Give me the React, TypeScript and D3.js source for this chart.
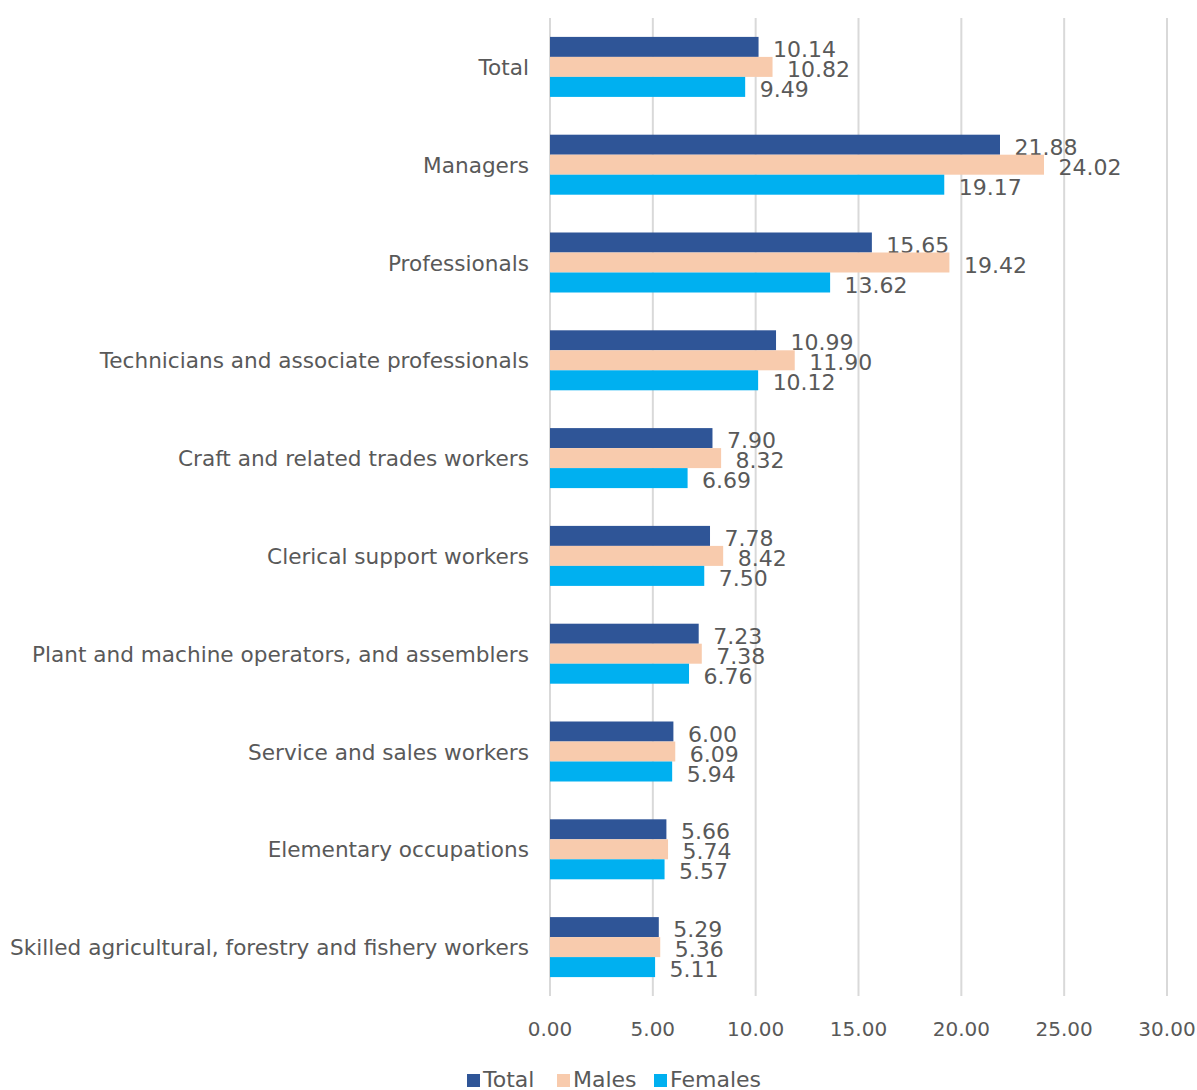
import React from "react";
import * as d3 from "d3";

const categories = [
  "Total",
  "Managers",
  "Professionals",
  "Technicians and associate professionals",
  "Craft and related trades workers",
  "Clerical support workers",
  "Plant and machine operators, and assemblers",
  "Service and sales workers",
  "Elementary occupations",
  "Skilled agricultural, forestry and fishery workers",
];
const seriesNames = ["Total", "Males", "Females"];
const totalValues = [10.14, 21.88, 15.65, 10.99, 7.9, 7.78, 7.23, 6.0, 5.66, 5.29];
const maleValues = [10.82, 24.02, 19.42, 11.9, 8.32, 8.42, 7.38, 6.09, 5.74, 5.36];
const femaleValues = [9.49, 19.17, 13.62, 10.12, 6.69, 7.5, 6.76, 5.94, 5.57, 5.11];
const xTicks = [0, 5, 10, 15, 20, 25, 30];
const colors = ["#2F5597", "#F8CBAD", "#00B0F0"];

export default function App() {
  const W = 1197, H = 1090;
  const left = 550, right = 1167, top = 18, bottom = 996;
  const x = d3.scaleLinear().domain([0, 30]).range([left, right]);
  const y = d3.scaleBand().domain(categories).range([top, bottom]);
  const step = y.step();
  const barH = 20;
  const series = [totalValues, maleValues, femaleValues];
  const font = "DejaVu Sans, Verdana, sans-serif";
  const textColor = "#595959";

  const legendItems = seriesNames.map((n, i) => ({ n, c: colors[i] }));
  const legendX = [467, 557, 654];

  return (
    <svg width={W} height={H} style={{ position: "absolute", left: 0, top: 0 }} fontFamily={font}>
      <rect width={W} height={H} fill="#fff" />
      {xTicks.map((t) => (
        <line key={t} x1={x(t)} x2={x(t)} y1={top} y2={bottom} stroke="#D9D9D9" strokeWidth={2} />
      ))}
      {categories.map((c, ci) => {
        const cy = (y(c) as number) + step / 2;
        return (
          <g key={c}>
            <text x={529} y={cy + 8} textAnchor="end" fontSize={21.6} fill={textColor}>
              {c}
            </text>
            {series.map((vals, si) => {
              const by = cy - 1.5 * barH + si * barH;
              return (
                <g key={si}>
                  <rect x={x(0)} y={by} width={x(vals[ci]) - x(0)} height={barH} fill={colors[si]} />
                  <text x={x(vals[ci]) + 14.5} y={by + barH / 2 + 10} fontSize={22} fill={textColor}>
                    {vals[ci].toFixed(2)}
                  </text>
                </g>
              );
            })}
          </g>
        );
      })}
      {xTicks.map((t) => (
        <text key={"l" + t} x={x(t)} y={1036} textAnchor="middle" fontSize={20} fill={textColor}>
          {t.toFixed(2)}
        </text>
      ))}
      {legendItems.map((it, i) => (
        <g key={it.n}>
          <rect x={legendX[i]} y={1074} width={13} height={13} fill={it.c} />
          <text x={legendX[i] + 16} y={1087} fontSize={22} fill={textColor}>
            {it.n}
          </text>
        </g>
      ))}
    </svg>
  );
}
